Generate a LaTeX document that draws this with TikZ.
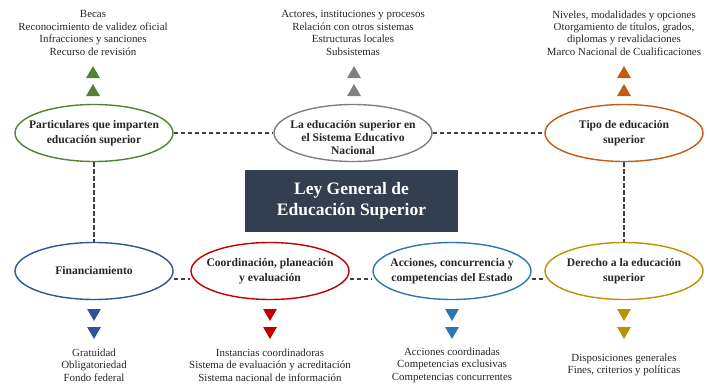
\documentclass[tikz,border=0pt]{standalone}
\usepackage{fontspec}
\setmainfont{Liberation Serif}
\usetikzlibrary{shapes.geometric}

\definecolor{verde}{HTML}{548235}
\definecolor{gris}{HTML}{808080}
\definecolor{naranja}{HTML}{C55A11}
\definecolor{marino}{HTML}{2F5597}
\definecolor{rojo}{HTML}{C00000}
\definecolor{azul}{HTML}{2E75B6}
\definecolor{oro}{HTML}{BF9000}
\definecolor{pizarra}{HTML}{333F50}

\begin{document}
\begin{tikzpicture}[x=1pt, y=-1pt,
        textotema/.style = {align=center, text=black!85, font=\fontsize{11.6}{14.5}\selectfont\bfseries},
        tema/.style = {ellipse, draw=#1, line width=1.4pt, minimum width=158pt, minimum height=57pt,
                inner xsep=-30pt, inner ysep=-12pt, textotema},
        enlace/.style = {dash pattern=on 4.5pt off 2.5pt, line width=1.2pt, black!75},
        arriba/.style = {regular polygon, regular polygon sides=3, fill=#1, minimum size=16pt, inner sep=0pt},
        abajo/.style = {arriba=#1, shape border rotate=180},
        lista/.style = {align=center, inner sep=0pt, text=black!85, font=\fontsize{10.9}{12.4}\selectfont}]
        \useasboundingbox (0,0) rectangle (709,383);

        % ley
        \node[fill=pizarra, text=white, minimum width=213pt, minimum height=62pt, align=center,
                font=\fontsize{17.5}{20.5}\selectfont\bfseries] (ley) at (351.5,201) {Ley General de\\Educación Superior};

        % temas de arriba
        \node[tema=verde] (particulares) at (94,133) {Particulares que imparten\\educación superior};
        \node[tema=gris, label={[textotema, font=\fontsize{11.6}{12.8}\selectfont\bfseries, yshift=-4.5pt]center:{La educación superior en\\el Sistema Educativo\\Nacional}}] (sistema) at (353,133) {};
        \node[tema=naranja] (tipo) at (624,133) {Tipo de educación\\superior};

        % temas de abajo
        \node[tema=marino] (financiamiento) at (94,271) {Financiamiento};
        \node[tema=rojo] (coordinacion) at (270,271) {Coordinación, planeación\\y evaluación};
        \node[tema=azul] (acciones) at (452,271) {Acciones, concurrencia y\\competencias del Estado};
        \node[tema=oro] (derecho) at (624,271) {Derecho a la educación\\superior};

        \draw[enlace] (particulares) -- (sistema);
        \draw[enlace] (sistema) -- (tipo);
        \draw[enlace] (particulares) -- (financiamiento);
        \draw[enlace] (tipo) -- (derecho);
        \draw[enlace] ([yshift=-8pt]financiamiento.east) -- ([yshift=-8pt]coordinacion.west);
        \draw[enlace] ([yshift=-8pt]coordinacion.east) -- ([yshift=-8pt]acciones.west);
        \draw[enlace] ([yshift=-8pt]acciones.east) -- ([yshift=-8pt]derecho.west);

        % flechas
        \node[arriba=verde] (v1) at (93,74) {};
        \node[arriba=verde] (v2) at (93,92) {};
        \node[arriba=gris] (g1) at (354,74) {};
        \node[arriba=gris] (g2) at (354,92) {};
        \node[arriba=naranja] (n1) at (624,74) {};
        \node[arriba=naranja] (n2) at (624,92) {};
        \node[abajo=marino] (m1) at (94,313) {};
        \node[abajo=marino] (m2) at (94,331) {};
        \node[abajo=rojo] (r1) at (270,313) {};
        \node[abajo=rojo] (r2) at (270,331) {};
        \node[abajo=azul] (a1) at (452,313) {};
        \node[abajo=azul] (a2) at (452,331) {};
        \node[abajo=oro] (o1) at (624,313) {};
        \node[abajo=oro] (o2) at (624,331) {};

        % listas
        \node[lista] (l1) at (93,33) {Becas\\Reconocimiento de validez oficial\\Infracciones y sanciones\\Recurso de revisión};
        \node[lista] (l2) at (353,33) {Actores, instituciones y procesos\\Relación con otros sistemas\\Estructuras locales\\Subsistemas};
        \node[lista] (l3) at (624,33) {Niveles, modalidades y opciones\\Otorgamiento de títulos, grados,\\diplomas y revalidaciones\\Marco Nacional de Cualificaciones};
        \node[lista] (l4) at (94,365) {Gratuidad\\Obligatoriedad\\Fondo federal};
        \node[lista] (l5) at (270,365) {Instancias coordinadoras\\Sistema de evaluación y acreditación\\Sistema nacional de información};
        \node[lista] (l6) at (452,365) {Acciones coordinadas\\Competencias exclusivas\\Competencias concurrentes};
        \node[lista] (l7) at (624,365) {Disposiciones generales\\Fines, criterios y políticas};
\end{tikzpicture}
\end{document}
